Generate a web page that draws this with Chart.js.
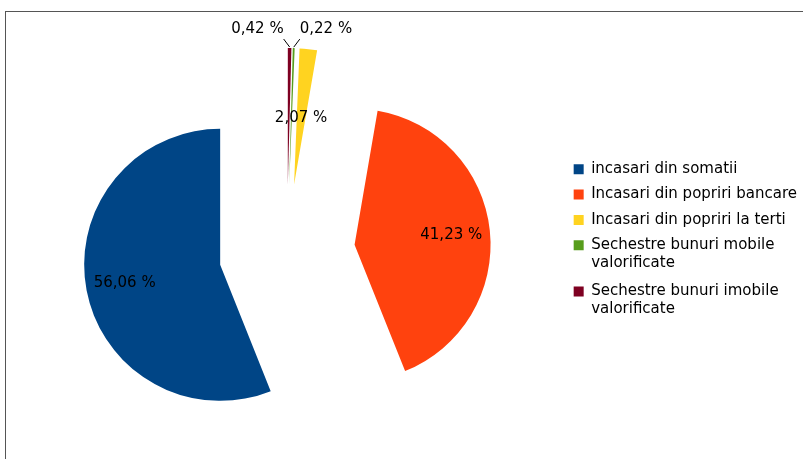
<!DOCTYPE html>
<html>
<head>
<meta charset="utf-8">
<script src="https://cdn.jsdelivr.net/npm/chart.js@4/dist/chart.umd.min.js"></script>
<style>
    body { margin: 0; background: #fff; }
    #wrap { position: relative; width: 803px; height: 459px; overflow: hidden; }
    #frame { position: absolute; left: 5px; top: 11px; width: 820px; height: 460px;
             border-top: 1px solid #555; border-left: 1px solid #555; }
    #chart { position: absolute; left: 0; top: 0; }
</style>
</head>
<body>
<div id="wrap">
    <div id="frame"></div>
    <canvas id="chart" width="803" height="459"></canvas>
</div>
<script>
// data, in legend order
const categories = [
    'incasari din somatii',
    'Incasari din popriri bancare',
    'Incasari din popriri la terti',
    ['Sechestre bunuri mobile', 'valorificate'],
    ['Sechestre bunuri imobile', 'valorificate']
];
const shares = [56.06, 41.23, 2.07, 0.22, 0.42];
const colors = ['#004586', '#ff420e', '#ffd320', '#579d1c', '#7e0021'];

// label placement per slice (same order as above)
const labelPlacement = [
    { inside: 0.715 },
    { inside: 0.715 },
    { inside: 0.49 },
    { outside: 'right' },
    { outside: 'left' }
];

const EXPLODE = 68;   // px each slice is pulled out
const RADIUS = 136;

document.addEventListener('DOMContentLoaded', function() {
    Chart.defaults.font.family = 'DejaVu Sans';
    Chart.defaults.color = '#000';

    // slices run counter-clockwise from the top, chart.js goes clockwise -> reverse
    const order = categories.map((c, i) => i).reverse();

    const explodePlugin = {
        id: 'explode',
        beforeDatasetDraw(chart, args) {
            const ctx = chart.ctx;
            args.meta.data.forEach(arc => {
                const mid = (arc.startAngle + arc.endAngle) / 2;
                ctx.save();
                ctx.translate(Math.cos(mid) * EXPLODE, Math.sin(mid) * EXPLODE);
                arc.draw(ctx);
                ctx.restore();
            });
            return false;
        }
    };

    const labelPlugin = {
        id: 'pctLabels',
        afterDatasetsDraw(chart) {
            const ctx = chart.ctx;
            const meta = chart.getDatasetMeta(0);
            ctx.save();
            ctx.font = '15px "DejaVu Sans"';
            ctx.fillStyle = '#000';
            ctx.strokeStyle = '#000';
            ctx.lineWidth = 1;
            ctx.textBaseline = 'middle';
            meta.data.forEach((arc, j) => {
                const i = order[j];
                const mid = (arc.startAngle + arc.endAngle) / 2;
                const cx = arc.x + Math.cos(mid) * EXPLODE;
                const cy = arc.y + Math.sin(mid) * EXPLODE;
                const text = shares[i].toFixed(2).replace('.', ',') + ' %';
                const place = labelPlacement[i];
                if (place.inside) {
                    const r = arc.outerRadius * place.inside;
                    ctx.textAlign = 'center';
                    ctx.fillText(text, cx + Math.cos(mid) * r, cy + Math.sin(mid) * r);
                } else {
                    const ax = cx + Math.cos(mid) * (arc.outerRadius + 1);
                    const ay = cy + Math.sin(mid) * (arc.outerRadius + 1);
                    const dir = place.outside === 'left' ? -1 : 1;
                    ctx.beginPath();
                    ctx.moveTo(ax, ay);
                    ctx.lineTo(ax + dir * 6, ay - 8);
                    ctx.stroke();
                    ctx.textAlign = dir < 0 ? 'right' : 'left';
                    ctx.fillText(text, ax + dir * 6, ay - 18);
                }
            });
            ctx.restore();
        }
    };

    new Chart(document.getElementById('chart'), {
        type: 'pie',
        data: {
            labels: order.map(i => categories[i]),
            datasets: [{
                data: order.map(i => shares[i]),
                backgroundColor: order.map(i => colors[i]),
                borderWidth: 0,
                radius: RADIUS
            }]
        },
        options: {
            responsive: false,
            animation: false,
            layout: { padding: { left: 10.5, right: -4, top: 45, bottom: 0 } },
            plugins: {
                tooltip: { enabled: false },
                legend: {
                    position: 'right',
                    align: 'start',
                    title: { display: true, text: '', font: { size: 15 }, padding: { top: 88.5, bottom: 0 } },
                    labels: {
                        boxWidth: 10,
                        boxHeight: 10,
                        padding: 10.3,
                        color: '#000',
                        font: { size: 15, lineHeight: 1.2 },
                        sort: (a, b) => b.index - a.index
                    }
                }
            }
        },
        plugins: [explodePlugin, labelPlugin]
    });
});
</script>
</body>
</html>
